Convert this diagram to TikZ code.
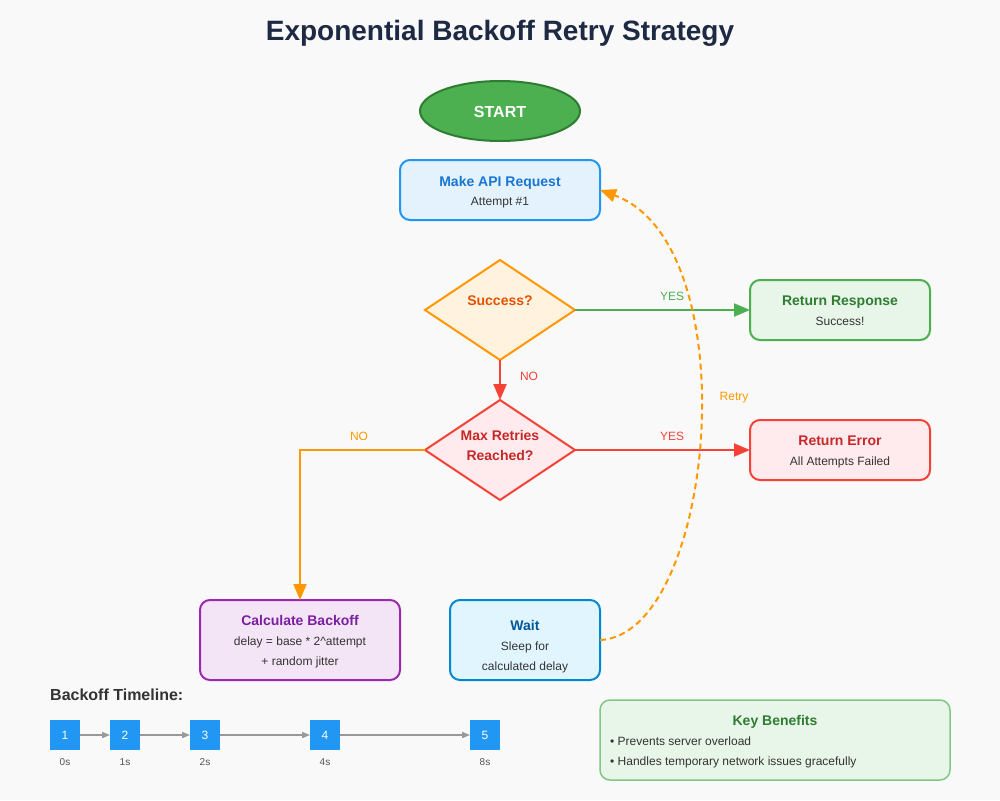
\documentclass[tikz,border=0pt]{standalone}
\usepackage{fontspec}
\setmainfont{Liberation Sans}
\usetikzlibrary{shapes.geometric,arrows.meta}
\definecolor{bg}{HTML}{F9F9F9}
\definecolor{titlec}{HTML}{1E2A44}
\definecolor{startg}{HTML}{4CAF50}
\definecolor{startdk}{HTML}{2E7D32}
\definecolor{bluef}{HTML}{E3F2FD}
\definecolor{blued}{HTML}{2196F3}
\definecolor{bluet}{HTML}{1976D2}
\definecolor{orf}{HTML}{FFF3E0}
\definecolor{ord}{HTML}{FF9800}
\definecolor{ort}{HTML}{E65100}
\definecolor{grf}{HTML}{E8F5E9}
\definecolor{grd}{HTML}{4CAF50}
\definecolor{grt}{HTML}{2E7D32}
\definecolor{grl}{HTML}{81C784}
\definecolor{redf}{HTML}{FFEBEE}
\definecolor{redd}{HTML}{F44336}
\definecolor{redt}{HTML}{C62828}
\definecolor{purf}{HTML}{F3E5F5}
\definecolor{purd}{HTML}{9C27B0}
\definecolor{purt}{HTML}{7B1FA2}
\definecolor{wf}{HTML}{E1F5FE}
\definecolor{wd}{HTML}{0288D1}
\definecolor{wt}{HTML}{01579B}
\definecolor{subc}{HTML}{333333}
\definecolor{tlc}{HTML}{555555}
\definecolor{tline}{HTML}{999999}
\newcommand\fsz[2]{\fontsize{#1}{#2}\selectfont}
\tikzset{
  boxnode/.style={rectangle, rounded corners=10pt, line width=2pt, minimum width=#1, minimum height=60pt, inner sep=0pt, outer sep=0pt},
  decnode/.style={diamond, line width=2pt, minimum width=150pt, minimum height=100pt, inner sep=0pt, outer sep=0pt},
  ttl/.style={anchor=base, inner sep=0pt, font=\bfseries\fsz{14}{17}},
  sub/.style={anchor=base, inner sep=0pt, text=subc, font=\fsz{12}{14}},
  elab/.style={anchor=base, inner sep=0pt, font=\fsz{12}{14}},
  conn/.style={line width=2pt, -{Triangle[length=16pt,width=13pt]}},
  sq/.style={rectangle, fill=blued, minimum width=30pt, minimum height=30pt, inner sep=0pt, outer sep=0pt},
  sqtxt/.style={anchor=base, inner sep=0pt, text=white, font=\fsz{12}{14}},
  tltxt/.style={anchor=base, inner sep=0pt, text=tlc, font=\fsz{10}{12}},
  tlarrow/.style={draw=tline, line width=1.5pt, -{Triangle[length=8pt,width=6pt]}},
  bul/.style={anchor=base west, inner sep=0pt, text=subc, font=\fsz{12}{14}},
}
\begin{document}
\begin{tikzpicture}[x=1pt,y=-1pt]
\fill[bg] (0,0) rectangle (1000,800);
\useasboundingbox (0,0) rectangle (1000,800);

% title
\node[anchor=base, inner sep=0pt, text=titlec, font=\bfseries\fsz{28}{32}] (title) at (500,41) {Exponential Backoff Retry Strategy};

% start
\node[ellipse, draw=startdk, fill=startg, line width=2pt, minimum width=160pt, minimum height=60pt, inner sep=0pt] (start) at (500,111) {};
\node[anchor=base, inner sep=0pt, text=white, font=\bfseries\fsz{16}{19}] (starttxt) at (500,117) {START};

% make api request
\node[boxnode=200pt, draw=blued, fill=bluef] (api) at (500,190) {};
\node[ttl, text=bluet] (apit) at (500,186) {Make API Request};
\node[sub] (apis) at (500,205) {Attempt \#1};

% success
\node[decnode, draw=ord, fill=orf] (succ) at (500,310) {};
\node[ttl, text=ort] (succt) at (500,305) {Success?};

% return response
\node[boxnode=180pt, draw=grd, fill=grf] (resp) at (840,310) {};
\node[ttl, text=grt] (respt) at (840,305) {Return Response};
\node[sub] (resps) at (840,325) {Success!};

% max retries
\node[decnode, draw=redd, fill=redf] (maxr) at (500,450) {};
\node[ttl, text=redt] (maxt1) at (500,440) {Max Retries};
\node[ttl, text=redt] (maxt2) at (500,460) {Reached?};

% return error
\node[boxnode=180pt, draw=redd, fill=redf] (err) at (840,450) {};
\node[ttl, text=redt] (errt) at (840,445) {Return Error};
\node[sub] (errs) at (840,465) {All Attempts Failed};

% calculate backoff
\node[boxnode=200pt, minimum height=80pt, draw=purd, fill=purf] (calc) at (300,640) {};
\node[ttl, text=purt] (calct) at (300,625) {Calculate Backoff};
\node[sub] (calcs1) at (300,645) {delay = base * 2\^{}attempt};
\node[sub] (calcs2) at (300,665) {+ random jitter};

% wait
\node[boxnode=150pt, minimum height=80pt, draw=wd, fill=wf] (wait) at (525,640) {};
\node[ttl, text=wt] (waitt) at (525,630) {Wait};
\node[sub] (waits1) at (525,650) {Sleep for};
\node[sub] (waits2) at (525,670) {calculated delay};

% connectors
\draw[conn, draw=grd] (succ.east) -- (resp.west);
\node[elab, text=grd] (yes1) at (672,300) {YES};
\draw[conn, draw=redd] (succ.south) -- (maxr.north);
\node[elab, text=redd] (no1) at (529,380) {NO};
\draw[conn, draw=redd] (maxr.east) -- (err.west);
\node[elab, text=redd] (yes2) at (672,440) {YES};
\draw[conn, draw=ord] (maxr.west) -| (calc.north);
\node[elab, text=ord] (no2) at (359,440) {NO};
\draw[conn, draw=ord, dash pattern=on 6pt off 4pt] (wait.east) .. controls +(115,-5) and +(150,55) .. (api.east);
\node[elab, text=ord] (retry) at (734,400) {Retry};

% timeline
\node[anchor=base west, inner sep=0pt, text=subc, font=\bfseries\fsz{16}{19}] (tl) at (50,700) {Backoff Timeline:};
\node[sq] (s1) at (65,735) {};
\node[sq] (s2) at (125,735) {};
\node[sq] (s3) at (205,735) {};
\node[sq] (s4) at (325,735) {};
\node[sq] (s5) at (485,735) {};
\node[sqtxt] (n1) at (65,739.5) {1};
\node[sqtxt] (n2) at (125,739.5) {2};
\node[sqtxt] (n3) at (205,739.5) {3};
\node[sqtxt] (n4) at (325,739.5) {4};
\node[sqtxt] (n5) at (485,739.5) {5};
\draw[tlarrow] (s1.east) -- (s2.west);
\draw[tlarrow] (s2.east) -- (s3.west);
\draw[tlarrow] (s3.east) -- (s4.west);
\draw[tlarrow] (s4.east) -- (s5.west);
\node[tltxt] (t1) at (65,765) {0s};
\node[tltxt] (t2) at (125,765) {1s};
\node[tltxt] (t3) at (205,765) {2s};
\node[tltxt] (t4) at (325,765) {4s};
\node[tltxt] (t5) at (485,765) {8s};

% key benefits
\node[rectangle, rounded corners=10pt, draw=grl, fill=grf, line width=1.5pt, minimum width=350pt, minimum height=80pt, inner sep=0pt] (kb) at (775,740) {};
\node[ttl, text=grt] (kbt) at (775,725) {Key Benefits};
\node[bul] (kb1) at (610,745) {\textbullet\ Prevents server overload};
\node[bul] (kb2) at (610,765) {\textbullet\ Handles temporary network issues gracefully};
\end{tikzpicture}
\end{document}
